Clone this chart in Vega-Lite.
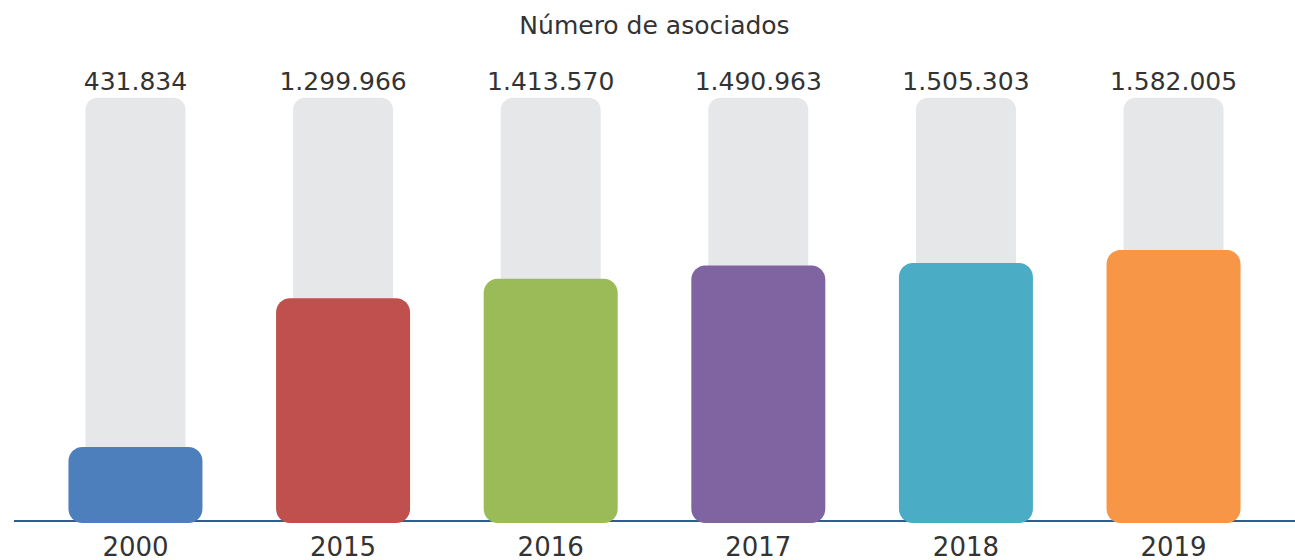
{
  "$schema": "https://vega.github.io/schema/vega-lite/v6.json",
  "width": 1281,
  "height": 461,
  "autosize": {"type": "none"},
  "padding": {"left": 14, "top": 60, "right": 0, "bottom": 39},
  "background": "white",
  "config": {
    "view": {"stroke": null},
    "font": "DejaVu Sans",
    "locale": {"number": {"decimal": ",", "thousands": ".", "grouping": [3], "currency": ["", ""]}}
  },
  "title": {
    "text": "Número de asociados",
    "fontSize": 25,
    "fontWeight": "normal",
    "color": "#333333",
    "anchor": "middle",
    "offset": 21
  },
  "data": {
    "values": [
      {"anio": "2000", "asociados": 431834},
      {"anio": "2015", "asociados": 1299966},
      {"anio": "2016", "asociados": 1413570},
      {"anio": "2017", "asociados": 1490963},
      {"anio": "2018", "asociados": 1505303},
      {"anio": "2019", "asociados": 1582005}
    ]
  },
  "layer": [
    {
      "mark": {"type": "bar", "size": 100, "color": "#E6E7E8", "cornerRadiusTopLeft": 12, "cornerRadiusTopRight": 12},
      "encoding": {
        "x": {
          "field": "anio",
          "type": "nominal",
          "sort": null,
          "scale": {"type": "band", "paddingOuter": 0.085, "paddingInner": 0},
          "axis": {
            "title": null,
            "labelAngle": 0,
            "labelFontSize": 26,
            "labelColor": "#333333",
            "labelPadding": 13,
            "ticks": false,
            "domain": false
          }
        },
        "y": {"datum": 2470000, "type": "quantitative", "scale": {"domain": [0, 2691000], "nice": false}, "axis": null}
      }
    },
    {
      "mark": {"type": "rule", "color": "#2A5F8F", "strokeWidth": 2},
      "encoding": {
        "y": {"datum": 0, "type": "quantitative"}
      }
    },
    {
      "mark": {"type": "bar", "size": 134, "cornerRadius": 14},
      "encoding": {
        "x": {"field": "anio", "type": "nominal", "sort": null},
        "y": {"field": "asociados", "type": "quantitative"},
        "y2": {"datum": -12000},
        "color": {
          "field": "anio",
          "type": "nominal",
          "legend": null,
          "scale": {
            "domain": ["2000", "2015", "2016", "2017", "2018", "2019"],
            "range": ["#4D7FBD", "#C0504D", "#9BBB59", "#8064A2", "#4BACC6", "#F79646"]
          }
        }
      }
    },
    {
      "mark": {"type": "text", "fontSize": 25, "color": "#333333", "baseline": "bottom", "dy": -3},
      "encoding": {
        "x": {"field": "anio", "type": "nominal", "sort": null},
        "y": {"datum": 2470000, "type": "quantitative"},
        "text": {"field": "asociados", "type": "quantitative", "format": ",.0f"}
      }
    }
  ]
}
